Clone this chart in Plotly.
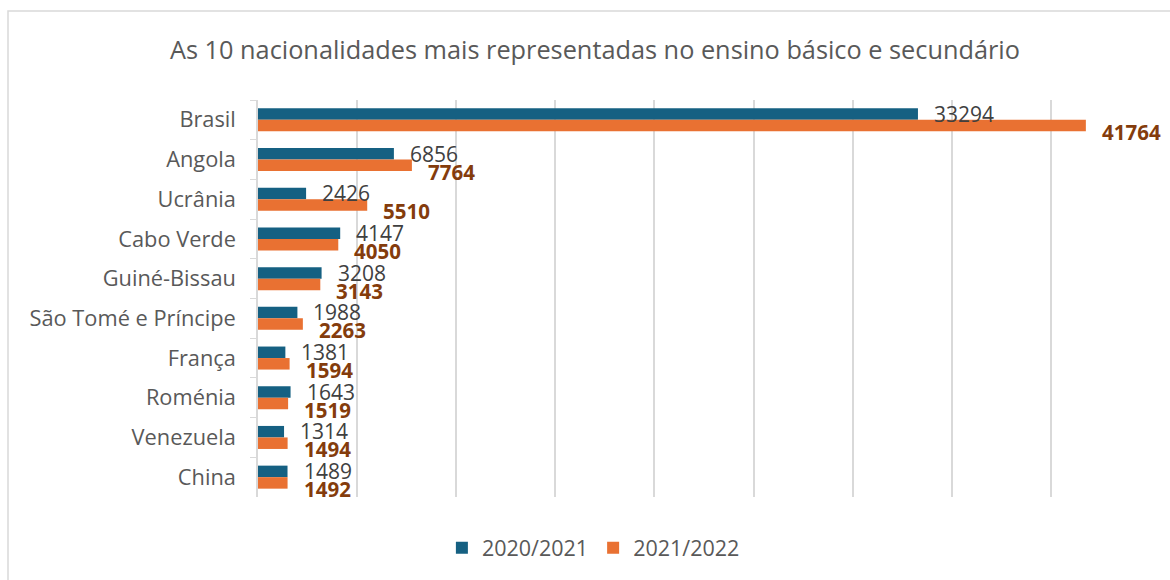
import plotly.graph_objects as go

categories = ["Brasil", "Angola", "Ucrânia", "Cabo Verde", "Guiné-Bissau",
              "São Tomé e Príncipe", "França", "Roménia", "Venezuela", "China"]
series_2020 = [33294, 6856, 2426, 4147, 3208, 1988, 1381, 1643, 1314, 1489]
series_2021 = [41764, 7764, 5510, 4050, 3143, 2263, 1594, 1519, 1494, 1492]
series_names = ["2020/2021", "2021/2022"]

BLUE = "#156082"
ORANGE = "#E97132"
BROWN = "#843C0C"
GRID = "#D9D9D9"
TEXT = "#595959"
FONT = "Open Sans"

fig = go.Figure()
fig.add_trace(go.Bar(y=categories, x=series_2020, name=series_names[0], orientation="h",
                     marker=dict(color=BLUE, line=dict(width=0))))
fig.add_trace(go.Bar(y=categories, x=series_2021, name=series_names[1], orientation="h",
                     marker=dict(color=ORANGE, line=dict(width=0))))

annotations = []
for c, v in zip(categories, series_2020):
    annotations.append(dict(x=v, y=c, xref="x", yref="y", text=str(v), showarrow=False,
                            xanchor="left", yanchor="middle", xshift=14, yshift=6,
                            font=dict(family=FONT, size=21, color="#404040")))
for c, v in zip(categories, series_2021):
    annotations.append(dict(x=v, y=c, xref="x", yref="y", text="<b>%d</b>" % v, showarrow=False,
                            xanchor="left", yanchor="middle", xshift=14, yshift=-12,
                            font=dict(family=FONT, size=20.5, color=BROWN)))

fig.update_layout(
    width=1170, height=580,
    margin=dict(l=258, r=20, t=100, b=83),
    paper_bgcolor="white", plot_bgcolor="white",
    barmode="group", bargap=0.42, bargroupgap=0,
    font=dict(family=FONT, color=TEXT),
    title=dict(text="As 10 nacionalidades mais representadas no ensino básico e secundário",
               x=0.5085, xref="container", xanchor="center",
               y=1 - 50 / 580, yref="container", yanchor="middle",
               font=dict(family=FONT, size=25.3, color=TEXT)),
    xaxis=dict(range=[0, 45000], dtick=5000, showgrid=True, gridcolor=GRID, gridwidth=1.5,
               showticklabels=False, zeroline=False, showline=False, ticks="", fixedrange=True),
    yaxis=dict(range=[len(categories) - 0.5, -0.5], autorange=False,
               showline=True, linecolor=GRID, linewidth=1.5,
               ticks="outside", tickson="boundaries", ticklen=6, tickcolor=GRID,
               tickfont=dict(family=FONT, size=21.8, color=TEXT), ticklabelstandoff=16,
               showgrid=False, fixedrange=True),
    legend=dict(orientation="h", x=0.376, xanchor="center", y=-0.128, yanchor="middle",
                font=dict(family=FONT, size=21.5, color=TEXT), traceorder="normal"),
    annotations=annotations,
    shapes=[dict(type="rect", xref="paper", yref="paper",
                 x0=(8 - 258) / 892, x1=1.2, y0=-0.3, y1=(497 - 11) / 397,
                 line=dict(color=GRID, width=1.5), fillcolor="rgba(0,0,0,0)", layer="below")],
)

fig.write_html("out.html", config={"displayModeBar": False},
               post_script="document.body.style.margin='0';document.body.style.overflow='hidden';")
